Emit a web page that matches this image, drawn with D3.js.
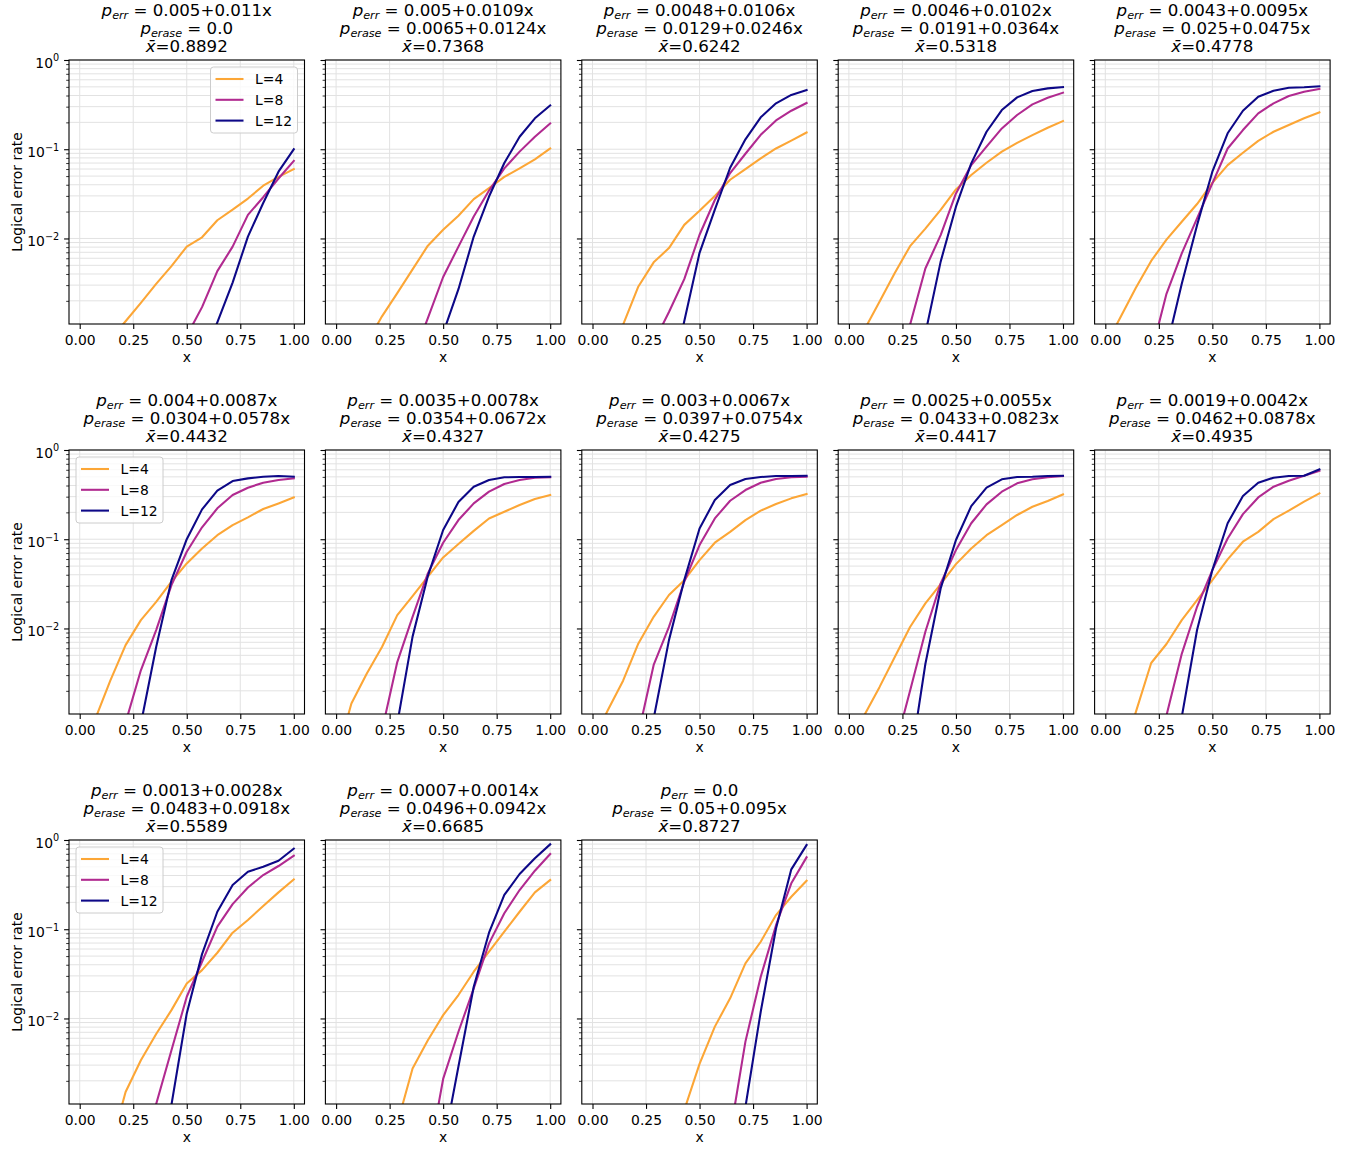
<!DOCTYPE html>
<html>
<head>
<meta charset="utf-8">
<script src="https://cdn.jsdelivr.net/npm/d3@7"></script>
<style>
  body { margin: 0; background: #fff; }
  text { font-family: "DejaVu Sans", sans-serif; fill: #000; }
</style>
</head>
<body>
<div id="chart"></div>
<script>
// x positions of the samples (i/14)
var xs = d3.range(15).map(function (i) { return i / 14; });
var xTicks = [0, 0.25, 0.5, 0.75, 1.0];

// title parts per panel
var pErr = ["0.005+0.011x", "0.005+0.0109x", "0.0048+0.0106x", "0.0046+0.0102x", "0.0043+0.0095x",
  "0.004+0.0087x", "0.0035+0.0078x", "0.003+0.0067x", "0.0025+0.0055x", "0.0019+0.0042x",
  "0.0013+0.0028x", "0.0007+0.0014x", "0.0"];
var pErase = ["0.0", "0.0065+0.0124x", "0.0129+0.0246x", "0.0191+0.0364x", "0.025+0.0475x",
  "0.0304+0.0578x", "0.0354+0.0672x", "0.0397+0.0754x", "0.0433+0.0823x", "0.0462+0.0878x",
  "0.0483+0.0918x", "0.0496+0.0942x", "0.05+0.095x"];
var xBar = ["0.8892", "0.7368", "0.6242", "0.5318", "0.4778", "0.4432", "0.4327", "0.4275",
  "0.4417", "0.4935", "0.5589", "0.6685", "0.8727"];

var labels = ["L=4", "L=8", "L=12"];
var colors = ["#fca636", "#b12a90", "#0d0887"];
var N = null;

// logical error rate, L=4, one row per panel
var L4 = [
  [N, N, 0.00074, 0.00118, 0.0019, 0.0031, 0.0049, 0.0081, 0.0103, 0.016, 0.021, 0.028, 0.039, 0.049, 0.060],
  [N, N, 0.00067, 0.00134, 0.00244, 0.0045, 0.0083, 0.0125, 0.018, 0.0276, 0.0366, 0.049, 0.061, 0.077, 0.102],
  [N, 0.00042, 0.00108, 0.0029, 0.0054, 0.0078, 0.0142, 0.0204, 0.030, 0.0455, 0.060, 0.079, 0.102, 0.125, 0.154],
  [N, 0.00094, 0.00195, 0.0041, 0.0082, 0.0129, 0.0209, 0.0354, 0.0514, 0.0706, 0.094, 0.118, 0.144, 0.174, 0.207],
  [0.00062, 0.00132, 0.0028, 0.0056, 0.0097, 0.0154, 0.0243, 0.042, 0.0664, 0.0914, 0.124, 0.157, 0.187, 0.222, 0.259],
  [N, 0.00095, 0.0026, 0.0065, 0.0124, 0.0199, 0.0334, 0.0536, 0.0789, 0.111, 0.144, 0.176, 0.218, 0.252, 0.294],
  [0.00035, 0.00144, 0.0031, 0.0062, 0.0141, 0.023, 0.038, 0.0625, 0.0883, 0.124, 0.171, 0.203, 0.242, 0.282, 0.313],
  [0.00055, 0.00121, 0.0026, 0.0068, 0.0135, 0.0237, 0.0348, 0.0584, 0.0914, 0.121, 0.164, 0.209, 0.248, 0.287, 0.321],
  [0.0005, 0.00106, 0.0022, 0.0048, 0.0104, 0.0191, 0.0314, 0.0526, 0.0789, 0.111, 0.144, 0.187, 0.231, 0.268, 0.318],
  [N, 0.00034, 0.00116, 0.0041, 0.0067, 0.0124, 0.0208, 0.0348, 0.0594, 0.0938, 0.121, 0.168, 0.209, 0.264, 0.327],
  [N, N, 0.00035, 0.0015, 0.0034, 0.0067, 0.0124, 0.0247, 0.0348, 0.0545, 0.0914, 0.127, 0.182, 0.259, 0.362],
  [N, N, N, N, 0.00066, 0.00275, 0.0057, 0.0109, 0.0183, 0.0334, 0.056, 0.0938, 0.157, 0.259, 0.356],
  [N, N, N, N, N, N, 0.00094, 0.0031, 0.0081, 0.0168, 0.0414, 0.0724, 0.144, 0.231, 0.35]
];

// L=8
var L8 = [
  [N, N, N, N, N, N, N, 0.00081, 0.0017, 0.0043, 0.0081, 0.0184, 0.029, 0.047, 0.074],
  [N, N, N, N, N, 0.00045, 0.00128, 0.0037, 0.0081, 0.0176, 0.0344, 0.061, 0.094, 0.138, 0.195],
  [N, N, N, N, 0.00068, 0.0015, 0.0035, 0.011, 0.027, 0.054, 0.089, 0.145, 0.21, 0.27, 0.33],
  [N, N, N, 0.00026, 0.00108, 0.0046, 0.0109, 0.032, 0.0664, 0.107, 0.171, 0.242, 0.318, 0.378, 0.43],
  [N, N, N, 0.00051, 0.0024, 0.0068, 0.0168, 0.0414, 0.102, 0.164, 0.252, 0.327, 0.395, 0.441, 0.473],
  [N, N, N, 0.00088, 0.0034, 0.0096, 0.0306, 0.0724, 0.136, 0.222, 0.313, 0.378, 0.43, 0.461, 0.481],
  [N, N, N, 0.00072, 0.0042, 0.0135, 0.0414, 0.0914, 0.164, 0.252, 0.341, 0.416, 0.461, 0.489, 0.494],
  [N, N, N, 0.00066, 0.0039, 0.0104, 0.0334, 0.086, 0.171, 0.27, 0.356, 0.43, 0.473, 0.494, 0.502],
  [N, N, N, 0.00045, 0.002, 0.0092, 0.032, 0.0756, 0.151, 0.246, 0.341, 0.423, 0.469, 0.494, 0.511],
  [N, N, N, 0.00022, 0.00106, 0.0052, 0.0175, 0.0451, 0.102, 0.191, 0.294, 0.388, 0.453, 0.515, 0.586],
  [N, N, N, N, 0.00028, 0.0011, 0.0044, 0.0175, 0.0432, 0.107, 0.191, 0.294, 0.405, 0.511, 0.667],
  [N, N, N, N, N, N, 0.00024, 0.0021, 0.0071, 0.0217, 0.0694, 0.151, 0.275, 0.453, 0.697],
  [N, N, N, N, N, N, N, N, N, 0.00051, 0.0055, 0.0293, 0.111, 0.327, 0.64]
];

// L=12
var L12 = [
  [N, N, N, N, N, N, N, N, 0.00042, 0.00115, 0.0032, 0.0105, 0.025, 0.056, 0.1],
  [N, N, N, N, N, N, N, 0.00087, 0.0027, 0.0105, 0.0295, 0.07, 0.138, 0.222, 0.31],
  [N, N, N, N, N, 0.0002, 0.00118, 0.0069, 0.021, 0.062, 0.129, 0.228, 0.327, 0.406, 0.46],
  [N, N, N, N, N, 0.00086, 0.0055, 0.0227, 0.0694, 0.157, 0.275, 0.381, 0.449, 0.481, 0.498],
  [N, N, N, N, 0.00059, 0.0031, 0.0141, 0.056, 0.151, 0.27, 0.388, 0.453, 0.489, 0.494, 0.507],
  [N, N, N, N, 0.00085, 0.0062, 0.0348, 0.1, 0.216, 0.35, 0.449, 0.481, 0.502, 0.511, 0.502],
  [N, N, N, N, 0.00086, 0.0081, 0.0386, 0.127, 0.261, 0.388, 0.461, 0.494, 0.498, 0.498, 0.502],
  [N, N, N, N, 0.00098, 0.0074, 0.0348, 0.132, 0.275, 0.405, 0.473, 0.498, 0.511, 0.511, 0.515],
  [N, N, N, N, 0.0003, 0.004, 0.0281, 0.098, 0.235, 0.378, 0.469, 0.498, 0.502, 0.511, 0.515],
  [N, N, N, N, N, 0.00102, 0.0096, 0.0451, 0.151, 0.305, 0.43, 0.489, 0.511, 0.515, 0.607],
  [N, N, N, N, N, N, 0.00108, 0.0114, 0.0526, 0.157, 0.313, 0.441, 0.502, 0.586, 0.8],
  [N, N, N, N, N, N, N, 0.00036, 0.0029, 0.0227, 0.0914, 0.242, 0.416, 0.623, 0.894],
  [N, N, N, N, N, N, N, N, N, N, 0.00102, 0.0119, 0.102, 0.469, 0.879]
];

var series = [L4, L8, L12];
var legendPos = { 0: "right", 5: "left", 10: "left" };

// layout
var W = 1369, H = 1149;
var pw = 235.5, ph = 264;
var colLeft = function (c) { return 69 + c * 256.4; };
var rowTop = function (r) { return 60 + r * 390; };

var svg = d3.select("#chart").append("svg")
  .attr("width", W).attr("height", H);

var x = d3.scaleLinear().domain([-0.05, 1.05]).range([0, pw]);
var y = d3.scaleLog().domain([0.0011, 1]).range([ph, 0]);
var yTicks = y.ticks();
var isMajor = function (v) { return Math.abs(Math.log10(v) - Math.round(Math.log10(v))) < 1e-9; };
var yMajor = yTicks.filter(isMajor);
var yMinor = yTicks.filter(function (v) { return !isMajor(v); });

var line = d3.line()
  .defined(function (d) { return d != null; })
  .x(function (d, i) { return x(xs[i]); })
  .y(function (d) { return y(d); });

pErr.forEach(function (_, k) {
  var r = Math.floor(k / 5), c = k % 5;
  var g = svg.append("g")
    .attr("transform", "translate(" + colLeft(c) + "," + rowTop(r) + ")");

  // grid
  g.append("g").selectAll("line").data(yTicks).enter().append("line")
    .attr("x1", 0).attr("x2", pw)
    .attr("y1", function (d) { return y(d); }).attr("y2", function (d) { return y(d); })
    .attr("stroke", "#e2e2e2").attr("stroke-width", 1);
  g.append("g").selectAll("line").data(xTicks).enter().append("line")
    .attr("y1", 0).attr("y2", ph)
    .attr("x1", function (d) { return x(d); }).attr("x2", function (d) { return x(d); })
    .attr("stroke", "#e2e2e2").attr("stroke-width", 1);

  // lines
  g.append("clipPath").attr("id", "clip" + k)
    .append("rect").attr("width", pw).attr("height", ph);
  series.forEach(function (s, j) {
    g.append("path")
      .attr("d", line(s[k]))
      .attr("clip-path", "url(#clip" + k + ")")
      .attr("fill", "none")
      .attr("stroke", colors[j])
      .attr("stroke-width", 2.08)
      .attr("stroke-linejoin", "round")
      .attr("stroke-linecap", "square");
  });

  // x axis
  var xa = g.append("g").attr("transform", "translate(0," + ph + ")")
    .call(d3.axisBottom(x).tickValues(xTicks).tickFormat(d3.format(".2f"))
      .tickSizeInner(4.9).tickSizeOuter(0).tickPadding(4.9));
  xa.select(".domain").remove();
  xa.selectAll("line").attr("stroke", "#000").attr("stroke-width", 1.1);
  xa.selectAll("text").attr("font-size", 13.9).attr("font-family", "DejaVu Sans")
    .attr("y", 21).attr("dy", null);
  g.append("text").attr("x", pw / 2).attr("y", ph + 37.5)
    .attr("text-anchor", "middle").attr("font-size", 13.9).text("x");

  // y ticks
  var ya = g.append("g")
    .call(d3.axisLeft(y).tickValues(yMajor).tickFormat("").tickSizeInner(4.9).tickSizeOuter(0));
  ya.select(".domain").remove();
  ya.selectAll("line").attr("stroke", "#000").attr("stroke-width", 1.1);
  var ym = g.append("g")
    .call(d3.axisLeft(y).tickValues(yMinor).tickFormat("").tickSizeInner(2.8).tickSizeOuter(0));
  ym.select(".domain").remove();
  ym.selectAll("line").attr("stroke", "#000").attr("stroke-width", 0.8);

  if (c === 0) {
    yMajor.forEach(function (v) {
      var e = Math.round(Math.log10(v));
      var t = g.append("text").attr("x", -9.8).attr("y", y(v) + 8)
        .attr("text-anchor", "end").attr("font-size", 13.9);
      t.append("tspan").text("10");
      t.append("tspan").attr("font-size", 9.7).attr("dy", -6.6)
        .text(e < 0 ? "\u2212" + (-e) : String(e));
    });
    g.append("text")
      .attr("transform", "translate(-47," + ph / 2 + ") rotate(-90)")
      .attr("text-anchor", "middle").attr("font-size", 13.9)
      .text("Logical error rate");
  }

  // frame
  g.append("rect").attr("width", pw).attr("height", ph)
    .attr("fill", "none").attr("stroke", "#000").attr("stroke-width", 1.1);

  // title
  var tl = function (yy) {
    return g.append("text").attr("x", pw / 2).attr("y", yy)
      .attr("text-anchor", "middle").attr("font-size", 16.67);
  };
  var t1 = tl(-44);
  t1.append("tspan").attr("font-style", "italic").text("p");
  t1.append("tspan").attr("font-style", "italic").attr("font-size", 11.2).attr("dy", 2.6).text("err");
  t1.append("tspan").attr("dy", -2.6).text(" = " + pErr[k]);
  var t2 = tl(-26);
  t2.append("tspan").attr("font-style", "italic").text("p");
  t2.append("tspan").attr("font-style", "italic").attr("font-size", 11.2).attr("dy", 2.6).text("erase");
  t2.append("tspan").attr("dy", -2.6).text(" = " + pErase[k]);
  var t3 = tl(-8);
  t3.append("tspan").attr("font-style", "italic").text("x\u0304");
  t3.append("tspan").text("=" + xBar[k]);

  // legend
  if (legendPos[k]) {
    var lw = 87, lh = 66;
    var lx = legendPos[k] === "right" ? pw - 7 - lw : 7;
    var lg = g.append("g").attr("transform", "translate(" + lx + ",7)");
    lg.append("rect").attr("width", lw).attr("height", lh).attr("rx", 3)
      .attr("fill", "#fff").attr("fill-opacity", 0.8)
      .attr("stroke", "#cccccc").attr("stroke-width", 1);
    labels.forEach(function (lab, j) {
      var cy = 12 + j * 20.8;
      lg.append("line").attr("x1", 5).attr("x2", 33).attr("y1", cy).attr("y2", cy)
        .attr("stroke", colors[j]).attr("stroke-width", 2.08);
      lg.append("text").attr("x", 44.5).attr("y", cy + 5).attr("font-size", 13.9).text(lab);
    });
  }
});
</script>
</body>
</html>
